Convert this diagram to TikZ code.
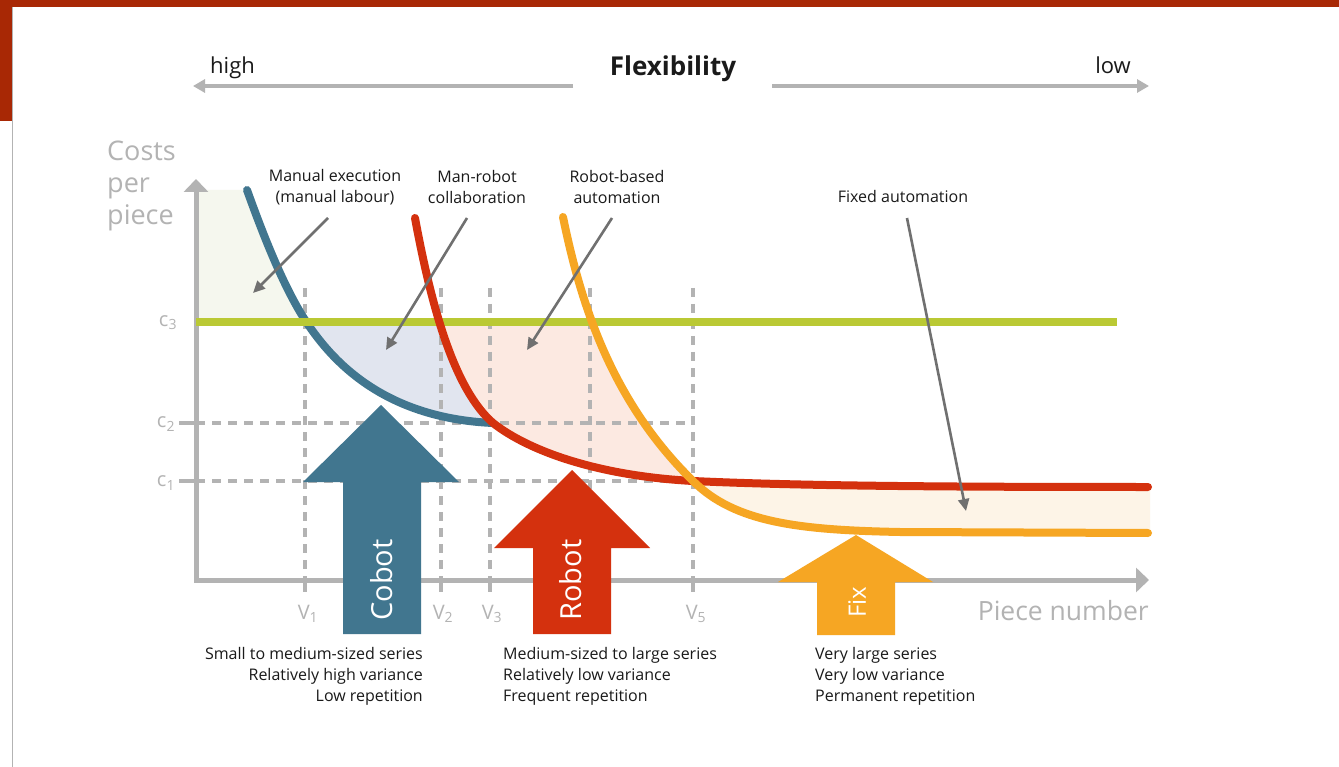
\documentclass[tikz,border=0pt]{standalone}
\usepackage{fontspec}
\setmainfont{Open Sans}
\usetikzlibrary{arrows.meta}
\definecolor{cblue}{HTML}{41768F}
\definecolor{cred}{HTML}{D4310E}
\definecolor{corange}{HTML}{F6A623}
\definecolor{cgreen}{HTML}{BAC934}
\definecolor{caxis}{HTML}{B3B3B3}
\definecolor{ccall}{HTML}{707070}
\definecolor{ctext}{HTML}{1A1A1A}
\definecolor{fgreen}{HTML}{F5F7EE}
\definecolor{fblue}{HTML}{E1E5EF}
\definecolor{fpink}{HTML}{FCE9E1}
\definecolor{fcream}{HTML}{FDF4E7}
\definecolor{frame}{HTML}{A82805}
\tikzset{
  curve/.style={line width=8pt, line cap=round},
  gridline/.style={caxis, line width=4.5pt, dash pattern=on 9pt off 7pt},
  tickline/.style={caxis, line width=4.5pt},
  axisline/.style={caxis, line width=5pt, -{Triangle[length=13pt,width=24pt]}},
  flexarrow/.style={caxis, line width=4pt, -{Triangle[length=12pt,width=13pt]}},
  callout/.style={ccall, line width=2.6pt, -{Triangle[length=12pt,width=11pt]}},
  lbl/.style={text=ctext, font=\fontsize{16}{21}\selectfont, inner sep=0pt, align=center},
  axlbl/.style={text=caxis, inner sep=0pt},
  bigtext/.style={text=white, rotate=90, inner sep=0pt}
}
\begin{document}
\begin{tikzpicture}[x=1pt,y=-1pt]
\useasboundingbox (0,0) rectangle (1339,767);
\fill[white] (0,0) rectangle (1339,767);
% frame
\fill[frame] (0,0) rectangle (1339,7);
\fill[frame] (0,0) rectangle (12,121);
\draw[caxis, line width=1.2pt] (12.5,7) -- (12.5,767);

% region fills
\begin{scope}
  \clip (196,150) rectangle (1200,322);
  \fill[fgreen] (198,190) -- (247,190) .. controls (265,240) and (285,290) .. (307,323)
     .. controls (330,357) and (380,418) .. (493,423) -- (198,423) -- cycle;
\end{scope}
\begin{scope}
  \clip (196,322) rectangle (1200,600);
  \fill[fblue] (247,190) .. controls (265,240) and (285,290) .. (307,323)
     .. controls (330,357) and (380,418) .. (493,423)
     .. controls (455,390) and (432,310) .. (415,218) -- cycle;
  \fill[fpink] (415,218) .. controls (432,310) and (455,390) .. (493,423)
     .. controls (530,452) and (600,476) .. (693,481)
     .. controls (610,400) and (580,300) .. (563,217) -- cycle;
\end{scope}
\fill[fcream] (693,481) .. controls (800,486) and (950,487) .. (1148,487)
   -- (1150,487) -- (1150,533) -- (1148,533) -- (900,532)
   .. controls (800,530) and (735,523) .. (693,481) -- cycle;

% grid
\foreach \x in {305,441,490,590,693} {
  \draw[gridline] (\x,288) -- (\x,580);
  \draw[tickline] (\x,580) -- (\x,592);
}
\foreach \y in {423,481} {
  \draw[gridline] (196,\y) -- (693,\y);
  \draw[tickline] (179,\y) -- (197,\y);
}

% axes
\coordinate (O) at (196,580);
\coordinate (ytip) at (196,179);
\coordinate (xtip) at (1149,580);
\draw[axisline] (196,582) -- (ytip);
\draw[axisline] (194,580) -- (xtip);

% flexibility
\node[text=ctext, font=\fontsize{26}{30}\selectfont\bfseries, inner sep=0pt] (flex) at (673,69) {Flexibility};
\node[text=ctext, font=\fontsize{22}{26}\selectfont, inner sep=0pt, anchor=base west] (high) at (210,74) {high};
\node[text=ctext, font=\fontsize{22}{26}\selectfont, inner sep=0pt, anchor=base east] (low) at (1131,74) {low};
\coordinate (fl) at (193,86);
\coordinate (fr) at (1149,86);
\draw[flexarrow] (573,86) -- (fl);
\draw[flexarrow] (772,86) -- (fr);

% axis labels
\node[axlbl, font=\fontsize{27}{32}\selectfont, align=left, anchor=west] (costs) at (107,186) {Costs\\per\\piece};
\node[axlbl, font=\fontsize{26.5}{30}\selectfont, anchor=east] (piece) at (1149,611) {Piece number};
\node[axlbl, font=\fontsize{20}{24}\selectfont] (c3) at (168,323) {c\textsubscript{3}};
\node[axlbl, font=\fontsize{20}{24}\selectfont] (c2) at (166,424) {c\textsubscript{2}};
\node[axlbl, font=\fontsize{20}{24}\selectfont] (c1) at (166,483) {c\textsubscript{1}};
\node[axlbl, font=\fontsize{20}{24}\selectfont] (v1) at (308,614) {V\textsubscript{1}};
\node[axlbl, font=\fontsize{20}{24}\selectfont] (v2) at (443,614) {V\textsubscript{2}};
\node[axlbl, font=\fontsize{20}{24}\selectfont] (v3) at (492,614) {V\textsubscript{3}};
\node[axlbl, font=\fontsize{20}{24}\selectfont] (v5) at (696,614) {V\textsubscript{5}};

% curves
\draw[curve, cblue] (247,190) .. controls (265,240) and (285,290) .. (307,323)
     .. controls (330,357) and (380,418) .. (493,423);
\draw[cgreen, line width=8pt] (196,322) -- (1117,322);
\draw[curve, cred] (415,218) .. controls (432,310) and (455,390) .. (493,423)
     .. controls (530,452) and (600,476) .. (693,481)
     .. controls (800,486) and (950,487) .. (1148,487);
\draw[curve, corange] (563,217) .. controls (580,300) and (610,400) .. (693,481)
     .. controls (735,523) and (800,530) .. (900,532) -- (1148,533);

% callouts
\node[lbl] (lman) at (335,187) {Manual execution\\(manual labour)};
\node[lbl] (lmr) at (477,187) {Man-robot\\collaboration};
\node[lbl] (lrb) at (617,187) {Robot-based\\automation};
\node[lbl] (lfa) at (903,197) {Fixed automation};
\coordinate (tman) at (253,293);
\coordinate (tmr) at (386,350);
\coordinate (trb) at (527,350);
\coordinate (tfa) at (966,511);
\draw[callout] (328,218) -- (tman);
\draw[callout] (467,218) -- (tmr);
\draw[callout] (612,218) -- (trb);
\draw[callout] (907,218) -- (tfa);

% big arrows
\fill[cblue] (343,634) -- (343,482) -- (303,482) -- (381,405) -- (459,482) -- (421,482) -- (421,634) -- cycle;
\node[bigtext, font=\fontsize{29}{32}\selectfont] (cobot) at (382,580) {Cobot};
\fill[cred] (533,634) -- (533,548) -- (494,548) -- (572,470) -- (650,548) -- (611,548) -- (611,634) -- cycle;
\node[bigtext, font=\fontsize{29}{32}\selectfont] (robot) at (571,580) {Robot};
\fill[corange] (817,635) -- (817,582) -- (778,582) -- (856,535) -- (933,582) -- (895,582) -- (895,635) -- cycle;
\node[bigtext, font=\fontsize{24}{26}\selectfont] (fix) at (857,602) {Fix};

% descriptions
\node[lbl, align=right, anchor=north east] (dcobot) at (423,647) {Small to medium-sized series\\Relatively high variance\\Low repetition};
\node[lbl, align=left, anchor=north west] (drobot) at (503,647) {Medium-sized to large series\\Relatively low variance\\Frequent repetition};
\node[lbl, align=left, anchor=north west] (dfix) at (815,647) {Very large series\\Very low variance\\Permanent repetition};
\end{tikzpicture}
\end{document}
